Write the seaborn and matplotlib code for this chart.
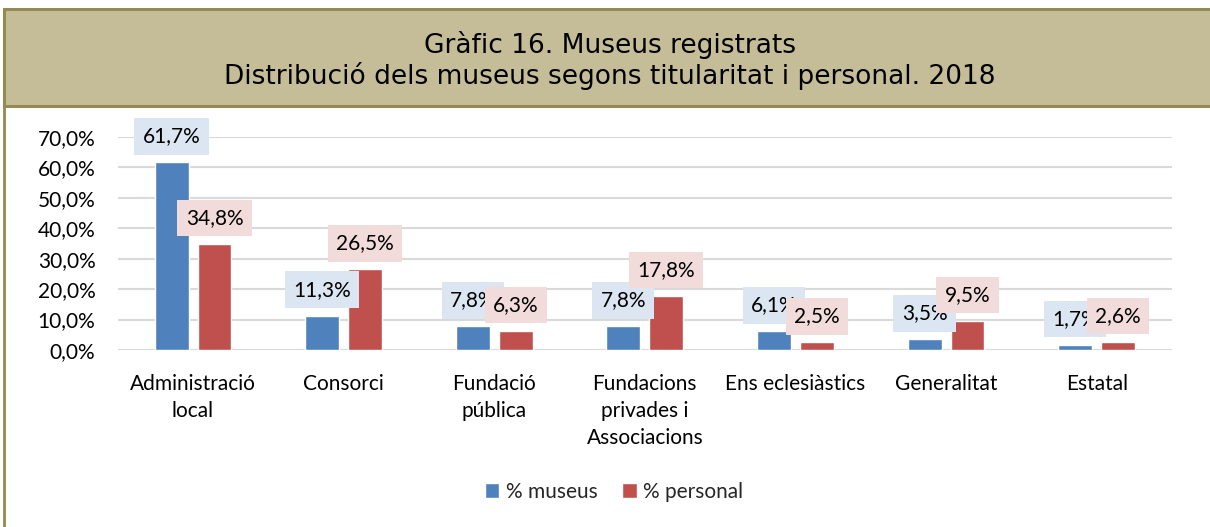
import numpy as np
import pandas as pd
import matplotlib.pyplot as plt
import seaborn as sns
from matplotlib.patches import Rectangle, Patch
from matplotlib.ticker import FuncFormatter

categories = ["Administració\nlocal", "Consorci", "Fundació\npública",
              "Fundacions\nprivades i\nAssociacions", "Ens eclesiàstics",
              "Generalitat", "Estatal"]
museus = [61.7, 11.3, 7.8, 7.8, 6.1, 3.5, 1.7]
personal = [34.8, 26.5, 6.3, 17.8, 2.5, 9.5, 2.6]
series = ["% museus", "% personal"]
yticks = [0, 10, 20, 30, 40, 50, 60, 70]

title1 = "Gràfic 16. Museus registrats"
title2 = "Distribució dels museus segons titularitat i personal. 2018"

BLUE = "#4F81BD"
RED = "#C0504D"
BOX_BLUE = "#DCE6F2"
BOX_RED = "#F2DCDB"
OLIVE = "#948A54"
TAN = "#C4BD97"
FS = 15

df = pd.DataFrame({
    "cat": categories * 2,
    "serie": [series[0]] * len(categories) + [series[1]] * len(categories),
    "val": museus + personal,
})

sns.set_theme(style="white")
plt.rcParams["font.family"] = ["Lato", "DejaVu Sans"]

W, H = 1210, 527
fig = plt.figure(figsize=(W / 100, H / 100), dpi=100)

# outer border and title band
fig.patches.append(Rectangle((4 / W, -0.05), 1.1, 1.05 - 9 / H, transform=fig.transFigure,
                             facecolor="white", edgecolor=OLIVE, lw=2, zorder=0))
fig.patches.append(Rectangle((4 / W, 1 - 106 / H), 1.1, 97 / H, transform=fig.transFigure,
                             facecolor=TAN, edgecolor=OLIVE, lw=2.2, zorder=1))
fig.text(610 / W, 1 - 45 / H, title1, ha="center", va="center", fontsize=19,
         family=["DejaVu Sans"], color="black")
fig.text(610 / W, 1 - 76 / H, title2, ha="center", va="center", fontsize=19,
         family=["DejaVu Sans"], color="black")

ax = fig.add_axes([117.7 / W, 1 - 350 / H, (1172 - 117.7) / W, (350 - 137) / H])
ax.set_zorder(3)
ax.set_facecolor("none")
sns.barplot(data=df, x="cat", y="val", hue="serie", palette=[BLUE, RED],
            saturation=1, width=0.57, gap=0.21, legend=False, ax=ax, zorder=3)

ax.set_ylim(0, 70)
ax.set_xlim(-0.5, len(categories) - 0.5)
ax.set_yticks(yticks)
ax.yaxis.set_major_formatter(FuncFormatter(lambda v, p: f"{v:.1f}%".replace(".", ",")))
ax.grid(axis="y", color="#D9D9D9", lw=1.5, zorder=0)
ax.set_axisbelow(True)
for s in ax.spines.values():
    s.set_visible(False)
ax.tick_params(axis="y", length=0, pad=16, labelsize=FS, colors="black")
ax.tick_params(axis="x", length=0, pad=17, labelsize=FS, colors="black")
for lab in ax.get_xticklabels():
    lab.set_linespacing(1.45)
ax.set_xlabel("")
ax.set_ylabel("")

# data labels
for cont, boxc in zip(ax.containers, [BOX_BLUE, BOX_RED]):
    for bar in cont:
        v = bar.get_height()
        xc = bar.get_x() + bar.get_width() / 2
        ax.annotate(f"{v:.1f}%".replace(".", ","), (xc, v), xytext=(0, 18.7),
                    textcoords="offset points", ha="center", va="center",
                    fontsize=FS, color="black", zorder=5,
                    bbox=dict(boxstyle="square,pad=0.4", fc=boxc, ec="none"))

handles = [Patch(facecolor=BLUE), Patch(facecolor=RED)]
fig.legend(handles, series, loc="center", bbox_to_anchor=(614 / W, 1 - 492 / H),
           ncol=2, frameon=False, fontsize=FS, handlelength=0.7, handleheight=0.7,
           handletextpad=0.3, columnspacing=1.2)

fig.savefig("out.png", dpi=100)
